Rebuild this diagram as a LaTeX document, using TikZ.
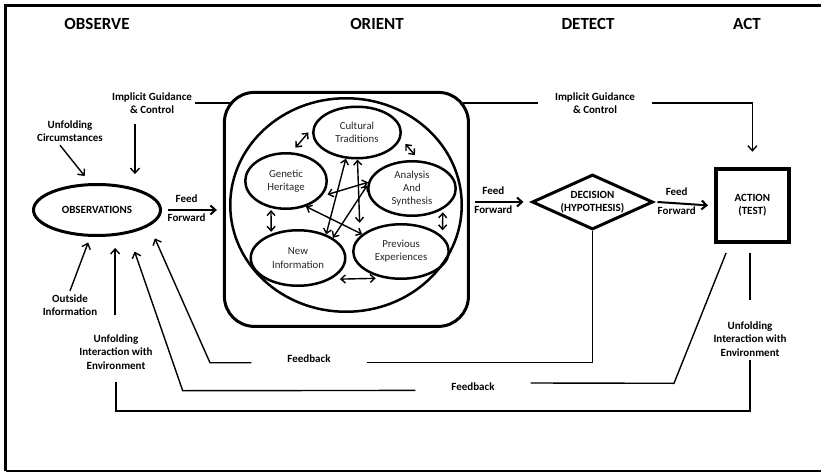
\documentclass[tikz,border=0pt]{standalone}
\usepackage{fontspec}
\setmainfont{Carlito}
\usetikzlibrary{shapes.geometric, arrows.meta}

\begin{document}
\begin{tikzpicture}[x=1pt, y=-1pt,
	phase/.style={font=\fontsize{17}{19}\selectfont\bfseries},
	lbl/.style={font=\fontsize{11}{13.5}\selectfont\bfseries, align=center},
	thought/.style={draw, ellipse, line width=2.5pt, inner sep=0pt, align=center,
		text=black!85, font=\fontsize{10.8}{13.3}\selectfont},
	wire/.style={line width=1.4pt},
	arr/.style={wire, -{Straight Barb[length=5pt, width=9pt]}},
	ffarr/.style={line width=2pt, -{Straight Barb[length=5pt, width=9pt]}},
	link/.style={line width=1.4pt, {Straight Barb[length=4.5pt, width=8pt]}-{Straight Barb[length=4.5pt, width=8pt]}},
	fbtext/.style={lbl, inner xsep=36pt}]
	\useasboundingbox (0,0) rectangle (821,473);
	%Frame
	\draw[line width=3pt] (5.5,471) -- (5.5,6) -- (821,6);
	\draw[line width=1.2pt] (5.5,471) -- (821,471);
	%Phase titles
	\node[phase] (observe) at (97,24) {OBSERVE};
	\node[phase] (orient) at (377,24) {ORIENT};
	\node[phase] (detect) at (588,24) {DETECT};
	\node[phase] (act) at (747,24) {ACT};
	\coordinate (bot) at (0,411);

	%Observe
	\node[draw, ellipse, line width=3pt, minimum width=127pt, minimum height=51pt, lbl] (obs) at (97,210) {OBSERVATIONS};
	\node[lbl] (igleft) at (152,103) {Implicit Guidance\\\& Control};
	\node[lbl] (uc) at (70,131) {Unfolding\\Circumstances};
	\node[lbl] (oi) at (70,305) {Outside\\Information};
	\node[lbl] (uil) at (116,352) {Unfolding\\Interaction with\\Environment};

	%Orient box and the mind inside it
	\node[draw, rounded corners=30pt, line width=3pt, minimum width=244pt, minimum height=234pt] (orientbox) at (346.4,209.4) {};
	\node[draw, ellipse, line width=2.5pt, minimum width=231.5pt, minimum height=213.5pt] (mind) at (346,205) {};
	\node[thought, minimum width=87.5pt, minimum height=51.5pt] (cult) at (357,132.5) {Cultural\\Traditions};
	\node[thought, minimum width=81.5pt, minimum height=55.5pt] (gene) at (286,181) {Genetic\\Heritage};
	\node[thought, minimum width=87.5pt, minimum height=54.5pt] (anal) at (412,188.5) {Analysis\\And\\Synthesis};
	\node[thought, minimum width=94.5pt, minimum height=55.5pt] (newi) at (298,258) {New\\Information};
	\node[thought, minimum width=95.5pt, minimum height=54.5pt] (prev) at (401,251.5) {Previous\\Experiences};

	%Decide and act
	\node[draw, diamond, aspect=2.2, inner sep=0pt, minimum width=121pt, minimum height=55pt, line width=3pt, lbl] (decision) at (592.5,202) {DECISION\\(HYPOTHESIS)};
	\node[draw, line width=4pt, minimum width=72.7pt, minimum height=73.3pt, lbl] (action) at (752.4,205.4) {ACTION\\(TEST)};
	\node[lbl, inner xsep=17pt] (igright) at (595,103) {Implicit Guidance\\\& Control};
	\node[lbl] (uir) at (750,339) {Unfolding\\Interaction with\\Environment};
	\node[fbtext] (fb1) at (309,359) {Feedback};
	\node[fbtext] (fb2) at (473,387) {Feedback};

	%Arrows into Observations
	\draw[wire] (igleft.east) -- ([xshift=7pt]orientbox.west |- igleft.east);
	\draw[arr, shorten <=7pt, shorten >=14pt] (obs.30 |- igleft.south) -- (obs.30);
	\draw[arr, shorten >=9pt] ([xshift=-10pt]uc.south) -- (obs.104);
	\draw[arr, shorten >=6pt] (oi.north) -- (obs.256);
	\draw[arr, shorten >=12pt] ([yshift=16pt]uil.north -| obs.305) -- (obs.305);

	%Feed forward
	\draw[ffarr] ([xshift=6pt]obs.east) -- ([xshift=-6pt]orientbox.west |- obs.east)
		node[lbl, above=3pt, pos=.38] (ff1a) {Feed} node[lbl, below=-1pt, pos=.38] (ff1b) {Forward};
	\draw[ffarr] ([xshift=5pt]orientbox.east |- decision) -- ([xshift=-7pt]decision.west)
		node[lbl, above=3pt, pos=.38] (ff2a) {Feed} node[lbl, below=-1pt, pos=.38] (ff2b) {Forward};
	\draw[ffarr] ([xshift=3pt]decision.east) -- ([xshift=-6pt]action.west)
		node[lbl, above=3pt, pos=.38] (ff3a) {Feed} node[lbl, below=-1pt, pos=.38] (ff3b) {Forward};

	%Links inside the mind
	\draw[link, shorten <=6pt, shorten >=7pt] (gene.79) -- (cult.173);
	\draw[link, shorten <=7pt, shorten >=7pt] (cult.352) -- (anal.75);
	\draw[link, shorten <=2pt, shorten >=2pt] (gene.241) -- (newi.138);
	\draw[link, shorten <=3pt, shorten >=6pt] (anal.326) -- (prev.20);
	\draw[link, shorten <=9pt, shorten >=8pt] (newi.327) -- (prev.237);
	\draw[link] (cult.247) -- (newi.40);
	\draw[link, shorten >=13pt] (cult.271) -- (prev.159);
	\draw[link, shorten <=6pt] (gene.337) -- (anal.172);
	\draw[link] (gene.308) -- (prev.156);
	\draw[link] (anal.176) -- (newi.30);

	%Implicit guidance to action
	\draw[wire] ([xshift=-7pt]orientbox.east |- igright.west) -- (igright.west);
	\draw[arr, shorten >=15pt] (igright.east) -- (igright.east -| action.north) -- (action.north);

	%Feedback loops
	\draw[wire] (decision.south) |- ([yshift=-3.7pt]fb1.east);
	\draw[arr, shorten >=13.5pt] ([yshift=-3.7pt]fb1.west) -- (210,362.7) -- (obs.343);
	\draw[wire] ([xshift=12pt, yshift=-9pt]action.south west) -- (674,383.3) -- ([yshift=4pt]fb2.east);
	\draw[arr, shorten >=19pt] ([yshift=-3.4pt]fb2.west) -- (182.7,390.7) -- (obs.323);

	%Unfolding interaction with environment
	\draw[wire] ([yshift=-9pt]action.south -| uir) -- ([yshift=18pt]uir.north);
	\draw[wire] (uir.south) -- (uir.south |- bot) -- (uil.south |- bot) -- ([yshift=-9pt]uil.south);
\end{tikzpicture}
\end{document}
